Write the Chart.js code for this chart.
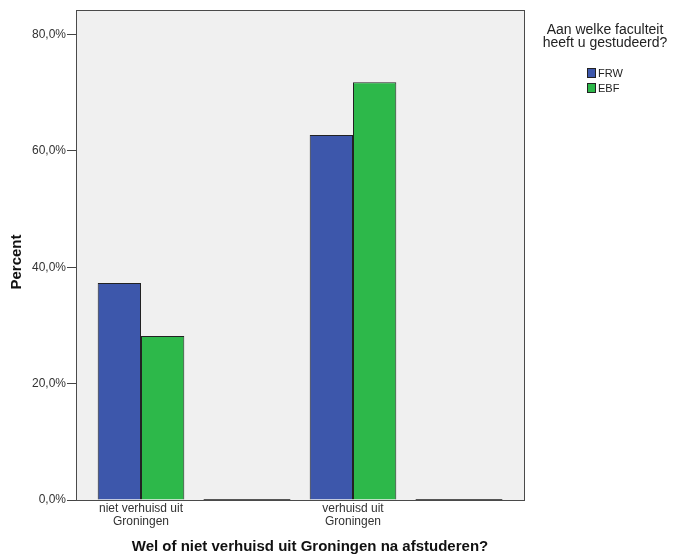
<!DOCTYPE html>
<html>
<head>
<meta charset="utf-8">
<script src="https://cdn.jsdelivr.net/npm/chart.js@4.4.0/dist/chart.umd.min.js"></script>
<style>
  html, body { margin: 0; padding: 0; background: #fff; }
  #wrap { width: 674px; height: 557px; }
</style>
</head>
<body>
<div id="wrap"><canvas id="chart"></canvas></div>
<script>
// data
const categories = [["niet verhuisd uit", "Groningen"], "", ["verhuisd uit", "Groningen"], ""];
const seriesNames = ["FRW", "EBF"];
const frwValues = [37.3, 0, 62.7, 0];
const ebfValues = [28.2, 0, 71.8, 0];
const yTickValues = [0, 20, 40, 60, 80];
const yMax = 84.2;

const xTitle = "Wel of niet verhuisd uit Groningen na afstuderen?";
const yTitle = "Percent";
const legendTitle = ["Aan welke faculteit", "heeft u gestudeerd?"];

const colors = ["#3d57ab", "#2db84a"];
const FONT = "'Liberation Sans', Arial, sans-serif";

// grey plot frame, zero bars, titles and legend like SPSS
const spssPlugin = {
  id: "spss",
  beforeDatasetsDraw(chart) {
    const { ctx, chartArea: a } = chart;
    ctx.save();
    ctx.fillStyle = "#f0f0f0";
    ctx.fillRect(a.left - 12, a.top, a.right - a.left + 25, a.bottom - a.top + 1);
    ctx.restore();
  },
  afterDatasetsDraw(chart) {
    const { ctx, chartArea: a } = chart;
    ctx.save();
    // zero-height bars show as a flat line
    ctx.strokeStyle = "#555";
    ctx.lineWidth = 1;
    chart.data.datasets.forEach((ds, i) => {
      chart.getDatasetMeta(i).data.forEach((el, j) => {
        if (ds.data[j] === 0) {
          ctx.beginPath();
          ctx.moveTo(el.x - el.width / 2, Math.round(el.base) - 0.5);
          ctx.lineTo(el.x + el.width / 2, Math.round(el.base) - 0.5);
          ctx.stroke();
        }
      });
    });
    ctx.strokeStyle = "#4a4a4a";
    ctx.strokeRect(a.left - 11.5, a.top + 0.5, a.right - a.left + 24, a.bottom - a.top);
    ctx.restore();
  },
  afterDraw(chart) {
    const { ctx } = chart;
    ctx.save();
    ctx.fillStyle = "#111";
    ctx.font = "bold 15px " + FONT;
    ctx.textAlign = "center";
    ctx.textBaseline = "middle";
    ctx.fillText(xTitle, 310, 547);

    ctx.translate(17, 262);
    ctx.rotate(-Math.PI / 2);
    ctx.fillText(yTitle, 0, 0);
    ctx.restore();

    // legend
    ctx.save();
    ctx.fillStyle = "#222";
    ctx.font = "14px " + FONT;
    ctx.textAlign = "center";
    ctx.textBaseline = "alphabetic";
    legendTitle.forEach((t, i) => ctx.fillText(t, 605, 34 + i * 13));
    ctx.font = "11px " + FONT;
    ctx.textAlign = "left";
    ctx.textBaseline = "middle";
    chart.data.datasets.forEach((ds, i) => {
      const y = 68 + i * 15;
      ctx.fillStyle = ds.backgroundColor;
      ctx.fillRect(587, y, 9, 10);
      ctx.strokeStyle = "#222";
      ctx.strokeRect(587.5, y + 0.5, 8, 9);
      ctx.fillStyle = "#222";
      ctx.fillText(ds.label, 598, y + 5.5);
    });
    ctx.restore();
  }
};

const ctx = document.getElementById("chart").getContext("2d");
new Chart(ctx, {
  type: "bar",
  data: {
    labels: categories,
    datasets: [
      {
        label: seriesNames[0],
        data: frwValues,
        backgroundColor: colors[0],
        borderColor: "#222",
        borderWidth: 1,
      },
      {
        label: seriesNames[1],
        data: ebfValues,
        backgroundColor: colors[1],
        borderColor: "#222",
        borderWidth: 1,
      },
    ],
  },
  options: {
    responsive: true,
    maintainAspectRatio: false,
    animation: false,
    layout: { padding: { top: 10, right: 162, bottom: 0, left: 0 } },
    datasets: { bar: { categoryPercentage: 0.817, barPercentage: 1 } },
    plugins: {
      legend: { display: false },
      tooltip: { enabled: false },
    },
    scales: {
      x: {
        grid: { display: false, drawTicks: false },
        border: { display: false },
        ticks: {
          padding: 2,
          color: "#333",
          maxRotation: 0,
          autoSkip: false,
          font: { family: FONT, size: 12, lineHeight: 1.08 },
        },
        afterFit(scale) {
          scale.height = 57;
        },
      },
      y: {
        min: 0,
        max: yMax,
        grid: { drawOnChartArea: false, drawTicks: true, tickLength: 21, color: "#444" },
        border: { display: false },
        ticks: {
          padding: 1,
          color: "#333",
          font: { family: FONT, size: 12 },
          callback: (v) => v.toFixed(1).replace(".", ",") + "%",
        },
        afterBuildTicks(scale) {
          scale.ticks = yTickValues.map((v) => ({ value: v }));
        },
        afterFit(scale) {
          scale.width = 88;
        },
      },
    },
  },
  plugins: [spssPlugin],
});
</script>
</body>
</html>
